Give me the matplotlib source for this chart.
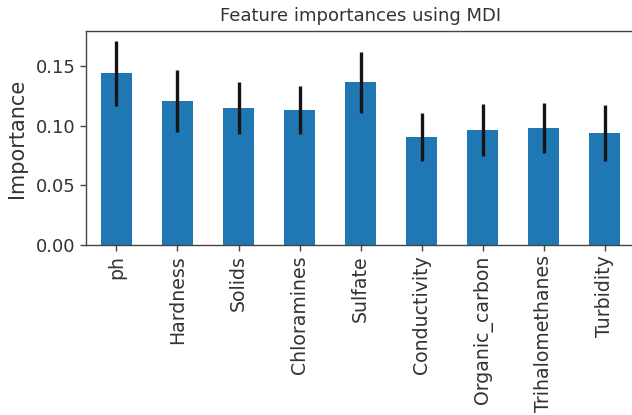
import matplotlib
matplotlib.use("Agg")
import matplotlib.pyplot as plt
import numpy as np

features = ["ph", "Hardness", "Solids", "Chloramines", "Sulfate",
            "Conductivity", "Organic_carbon", "Trihalomethanes", "Turbidity"]
importances = [0.144, 0.121, 0.115, 0.113, 0.1365, 0.0905, 0.0963, 0.098, 0.0938]
std = [0.027, 0.026, 0.022, 0.020, 0.0255, 0.020, 0.022, 0.021, 0.0235]

fig = plt.figure(figsize=(6.32, 4.15), dpi=100)
ax = fig.add_axes([0.136, 0.4096, 0.869, 0.516])
x = np.arange(len(features))
ax.bar(x, importances, width=0.5, color="#1f77b4", yerr=std,
       error_kw=dict(ecolor="#151515", elinewidth=2.4, capsize=0))
ax.set_xlim(-0.5, len(features) - 0.5)
ax.set_ylim(0, 0.1796)
ax.set_xticks(x)
ax.set_xticklabels(features, rotation=90, fontsize=13.6)
ax.set_yticks([0.0, 0.05, 0.10, 0.15])
ax.set_yticklabels(["0.00", "0.05", "0.10", "0.15"], fontsize=13)
ax.tick_params(axis="both", length=4, width=1.0, colors="#444444", labelcolor="#333333")
for s in ax.spines.values():
    s.set_linewidth(1.0)
    s.set_color("#444444")
ax.set_ylabel("Importance", fontsize=15, color="#333333", labelpad=6)
ax.set_title("Feature importances using MDI", fontsize=13, color="#333333", pad=7)
fig.savefig("out.png", dpi=100)
